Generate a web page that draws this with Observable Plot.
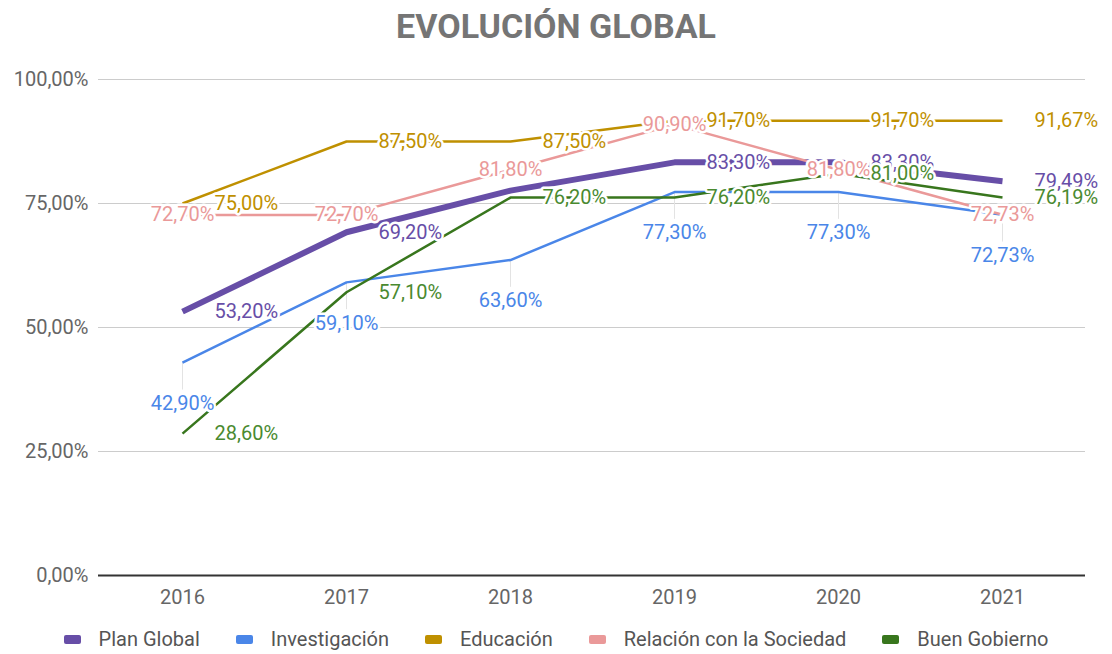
<!DOCTYPE html>
<html>
<head>
<meta charset="utf-8">
<script src="https://cdn.jsdelivr.net/npm/d3@7"></script>
<script src="https://cdn.jsdelivr.net/npm/@observablehq/plot@0.6"></script>
<style>
  html, body { margin: 0; padding: 0; background: #fff; }
  body { width: 1112px; height: 654px; overflow: hidden; font-family: Roboto, "Noto Sans", sans-serif; }
  #title { height: 60px; line-height: 52px; text-align: center; font-size: 34px; font-weight: 700; color: #757575; }
  #legend { display: flex; justify-content: center; align-items: center; gap: 36px; margin-top: 12px; font-size: 20px; color: #555; }
  #legend .item { display: flex; align-items: center; gap: 18px; }
  #legend .sw { width: 17px; height: 9px; border-radius: 2px; display: inline-block; }
</style>
</head>
<body>
<div id="title">EVOLUCIÓN GLOBAL</div>
<div id="chart"></div>
<div id="legend"></div>
<script>
const years = ["2016", "2017", "2018", "2019", "2020", "2021"];
const seriesNames = ["Plan Global", "Investigación", "Educación", "Relación con la Sociedad", "Buen Gobierno"];
const planGlobal = [53.20, 69.20, 77.60, 83.30, 83.30, 79.49];
const investigacion = [42.90, 59.10, 63.60, 77.30, 77.30, 72.73];
const educacion = [75.00, 87.50, 87.50, 91.70, 91.70, 91.67];
const relacion = [72.70, 72.70, 81.80, 90.90, 81.80, 72.73];
const buenGobierno = [28.60, 57.10, 76.20, 76.20, 81.00, 76.19];
// label shown for each point (null = no label)
const planGlobalLabels = ["53,20%", "69,20%", null, "83,30%", "83,30%", "79,49%"];
const investigacionLabels = ["42,90%", "59,10%", "63,60%", "77,30%", "77,30%", "72,73%"];
const educacionLabels = ["75,00%", "87,50%", "87,50%", "91,70%", "91,70%", "91,67%"];
const relacionLabels = ["72,70%", "72,70%", "81,80%", "90,90%", "81,80%", "72,73%"];
const buenGobiernoLabels = ["28,60%", "57,10%", "76,20%", "76,20%", "81,00%", "76,19%"];
const yTicks = [0, 25, 50, 75, 100];

const colors = ["#674ea7", "#4a86e8", "#bf9000", "#ea9999", "#38761d"];
const labelColors = ["#674ea7", "#4a86e8", "#bf9000", "#ea9999", "#4a8a30"];
const widths = [6, 2.5, 2.5, 2.5, 2.5];
const valueSets = [planGlobal, investigacion, educacion, relacion, buenGobierno];
const labelSets = [planGlobalLabels, investigacionLabels, educacionLabels, relacionLabels, buenGobiernoLabels];
// label placement style per series: "right", "below", "center"
const placement = ["right", "below", "right", "center", "right"];

const rows = [];
seriesNames.forEach((s, i) => {
  years.forEach((y, j) => rows.push({series: s, year: y, value: valueSets[i][j], label: labelSets[i][j], idx: i}));
});

const fmt = d => d.toFixed(2).replace(".", ",") + "%";

const marks = [
  Plot.ruleY(yTicks.filter(d => d > 0), {stroke: "#cccccc", strokeWidth: 1})
];
// faint leader lines for labels placed below their points
marks.push(Plot.ruleX(rows.filter(r => r.series === "Investigación"), {x: "year", y1: "value", y2: d => d.value - 5.5, stroke: "#e3e3e3", strokeWidth: 1}));
seriesNames.forEach((s, i) => {
  marks.push(Plot.line(rows.filter(r => r.series === s), {x: "year", y: "value", stroke: colors[i], strokeWidth: widths[i], strokeLinejoin: "round", strokeLinecap: "butt"}));
});
seriesNames.forEach((s, i) => {
  const data = rows.filter(r => r.series === s && r.label);
  const p = placement[i];
  marks.push(Plot.text(data, {
    x: "year", y: "value", text: "label",
    fill: labelColors[i], stroke: "white", strokeWidth: 5, paintOrder: "stroke",
    fontSize: 20, fontFamily: "Roboto",
    textAnchor: p === "right" ? "start" : "middle",
    dx: p === "right" ? 32 : 0,
    dy: p === "below" ? 41 : 0
  }));
});
marks.push(Plot.ruleY([0], {stroke: "#333333", strokeWidth: 2}));

const chart = Plot.plot({
  width: 1112,
  height: 555,
  marginTop: 19,
  marginBottom: 40,
  marginLeft: 98,
  marginRight: 27,
  style: {fontFamily: "Roboto", fontSize: "20px", color: "#666", background: "white", overflow: "visible"},
  x: {type: "point", domain: years, padding: 0.5, label: null, tickSize: 0, tickPadding: 14},
  y: {domain: [0, 100], ticks: yTicks, tickFormat: fmt, label: null, tickSize: 0, tickPadding: 10},
  marks
});
document.getElementById("chart").appendChild(chart);

const legend = document.getElementById("legend");
seriesNames.forEach((s, i) => {
  const it = document.createElement("div");
  it.className = "item";
  const sw = document.createElement("span");
  sw.className = "sw";
  sw.style.background = colors[i];
  const t = document.createElement("span");
  t.textContent = s;
  it.appendChild(sw); it.appendChild(t);
  legend.appendChild(it);
});
</script>
</body>
</html>
